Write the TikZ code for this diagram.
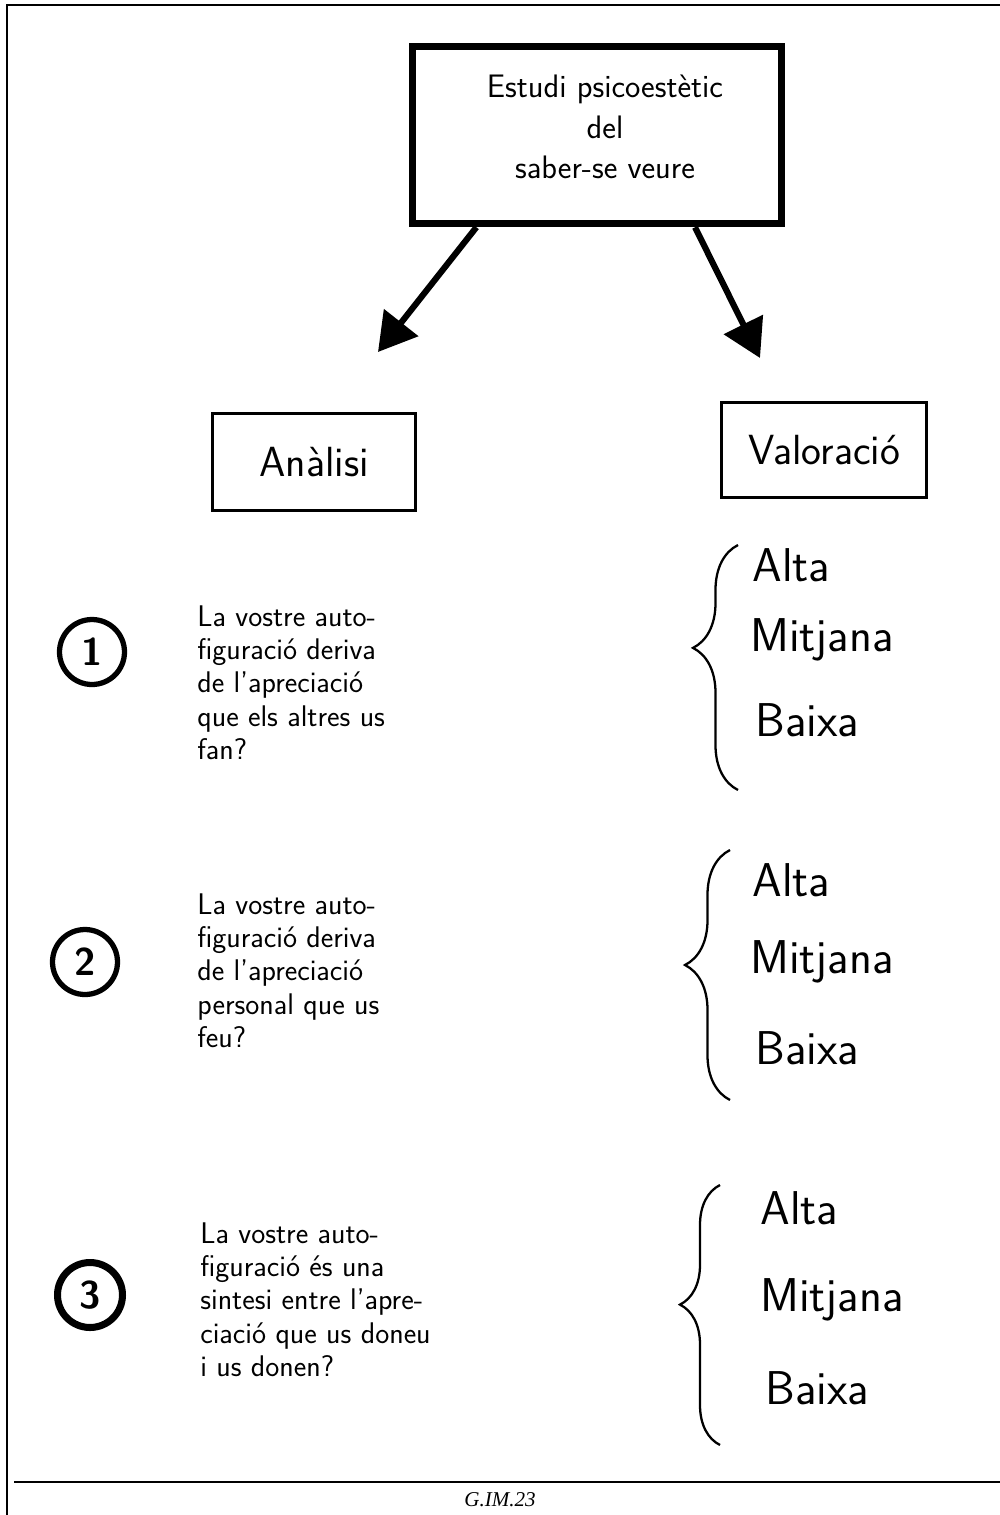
\documentclass[tikz,border=0pt]{standalone}
\usepackage{fontspec}
\usepackage{tikz}
\usetikzlibrary{arrows.meta,positioning,calc,decorations.pathreplacing}
\newfontfamily\footfont{Liberation Serif}

\tikzset{
  titlebox/.style={draw, line width=4pt, minimum width=7.4cm, minimum height=3.55cm},
  titletext/.style={align=center, inner sep=0pt, font=\sffamily\fontsize{18.5}{23}\selectfont},
  headbox/.style={draw, line width=1.6pt, minimum height=1.95cm, font=\sffamily\fontsize{24}{26}\selectfont},
  numcircle/.style={draw, circle, line width=3pt, minimum size=1.3cm, inner sep=0pt, font=\sffamily\bfseries\fontsize{22}{22}\selectfont},
  question/.style={anchor=north west, align=left, inner sep=0pt, font=\sffamily\fontsize{17}{19}\selectfont},
  level/.style={anchor=west, inner sep=0pt, font=\sffamily\fontsize{27}{27}\selectfont},
  bigarrow/.style={line width=3.5pt, -{Triangle[length=0.75cm, width=0.85cm]}},
  levelbrace/.style={line width=1.3pt, decorate}
}

\begin{document}
\begin{tikzpicture}[x=0.02cm, y=-0.02cm]
      \useasboundingbox (0,0) rectangle (1000,1515);
      % Page frame
      \draw[line width=1.5pt] (1000,5) -- (7,5) -- (7,1515);
      \draw[line width=1.5pt] (14,1482) -- (1000,1482);
      \node[font=\footfont\itshape\fontsize{12}{12}\selectfont] (code) at (500,1500) {G.IM.23};
      % Title
      \node[titlebox] (title) at (597,135) {};
      \node[titletext] (titlelines) at ($(title.center)+(8,-8)$) {Estudi psicoestètic\\del\\saber-se veure};
      % Branches
      \coordinate (tipA) at (378,352);
      \coordinate (tipV) at (760,358);
      \draw[bigarrow] ($(title.south west)!0.18!(title.south east)$) -- (tipA);
      \draw[bigarrow] ($(title.south west)!0.76!(title.south east)$) -- (tipV);
      \node[headbox, minimum width=4.05cm] (analisi) at (314,462) {Anàlisi};
      \node[headbox, minimum width=4.1cm, minimum height=1.9cm] (valoracio) at (824,450) {Valoració};
      % Question 1
      \node[numcircle] (num1) at (92,652) {1};
      \node[question] (q1) at (197,605) {La vostre auto-\\figuració deriva\\de l'apreciació\\que els altres us\\fan?};
      \draw[levelbrace, decoration={brace, amplitude=0.9cm, aspect=0.58}] (738,790) -- (738,545);
      \node[level] (alta1) at (752,565) {Alta};
      \node[level] (mitjana1) at (750,640) {Mitjana};
      \node[level] (baixa1) at (755,720) {Baixa};
      % Question 2
      \node[numcircle] (num2) at (85,962) {2};
      \node[question] (q2) at (197,893) {La vostre auto-\\figuració deriva\\de l'apreciació\\personal que us\\feu?};
      \draw[levelbrace, decoration={brace, amplitude=0.9cm, aspect=0.54}] (730,1100) -- (730,850);
      \node[level] (alta2) at (752,880) {Alta};
      \node[level] (mitjana2) at (750,962) {Mitjana};
      \node[level] (baixa2) at (755,1048) {Baixa};
      % Question 3
      \node[numcircle, line width=4pt] (num3) at (90,1295) {3};
      \node[question] (q3) at (200,1222) {La vostre auto-\\figuració és una\\sintesi entre l'apre-\\ciació que us doneu\\i us donen?};
      \draw[levelbrace, decoration={brace, amplitude=0.8cm, aspect=0.54}] (720,1445) -- (720,1185);
      \node[level] (alta3) at (760,1208) {Alta};
      \node[level] (mitjana3) at (760,1300) {Mitjana};
      \node[level] (baixa3) at (765,1388) {Baixa};
\end{tikzpicture}
\end{document}
